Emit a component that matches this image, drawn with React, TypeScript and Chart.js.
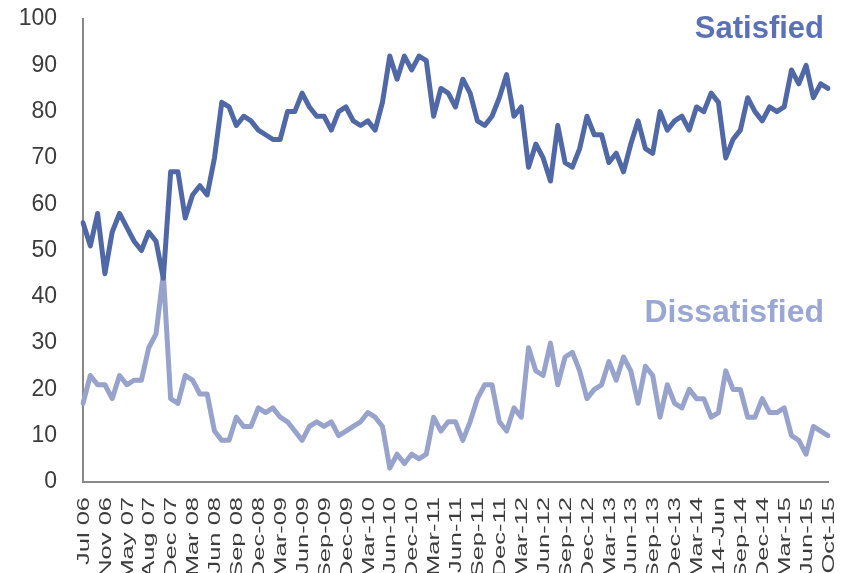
import React, { useEffect, useRef } from "react";
import { Chart, registerables } from "chart.js";

Chart.register(...registerables);

const tickLabels: string[] = [
  "Jul 06", "Nov 06", "May 07", "Aug 07", "Dec 07", "Mar 08", "Jun 08", "Sep 08",
  "Dec-08", "Mar-09", "Jun-09", "Sep-09", "Dec-09", "Mar-10", "Jun-10", "Dec-10",
  "Mar-11", "Jun-11", "Sep-11", "Dec-11", "Mar-12", "Jun-12", "Sep-12", "Dec-12",
  "Mar-13", "Jun-13", "Sep-13", "Dec-13", "Mar-14", "14-Jun", "Sep-14", "Dec-14",
  "Mar-15", "Jun-15", "Oct-15",
];

const satisfied: number[] = [
  56, 51, 58, 45, 54, 58, 55, 52, 50, 54, 52, 44,
  67, 67, 57, 62, 64, 62, 70, 82, 81, 77, 79, 78,
  76, 75, 74, 74, 80, 80, 84, 81, 79, 79, 76, 80,
  81, 78, 77, 78, 76, 82, 92, 87, 92, 89, 92, 91,
  79, 85, 84, 81, 87, 84, 78, 77, 79, 83, 88, 79,
  81, 68, 73, 70, 65, 77, 69, 68, 72, 79, 75, 75,
  69, 71, 67, 73, 78, 72, 71, 80, 76, 78, 79, 76,
  81, 80, 84, 82, 70, 74, 76, 83, 80, 78, 81, 80,
  81, 89, 86, 90, 83, 86, 85,
];

const dissatisfied: number[] = [
  17, 23, 21, 21, 18, 23, 21, 22, 22, 29, 32, 45,
  18, 17, 23, 22, 19, 19, 11, 9, 9, 14, 12, 12,
  16, 15, 16, 14, 13, 11, 9, 12, 13, 12, 13, 10,
  11, 12, 13, 15, 14, 12, 3, 6, 4, 6, 5, 6,
  14, 11, 13, 13, 9, 13, 18, 21, 21, 13, 11, 16,
  14, 29, 24, 23, 30, 21, 27, 28, 24, 18, 20, 21,
  26, 22, 27, 24, 17, 25, 23, 14, 21, 17, 16, 20,
  18, 18, 14, 15, 24, 20, 20, 14, 14, 18, 15, 15,
  16, 10, 9, 6, 12, 11, 10,
];

const LABEL_STEP = 3;
const categories: string[] = satisfied.map((_, i) =>
  i % LABEL_STEP === 0 ? tickLabels[i / LABEL_STEP] ?? "" : ""
);

const FONT = "'Liberation Sans', Arial, sans-serif";
const DARK = "#5068a6";
const LIGHT = "#97a3cb";
const TEXT = "#3c3c3c";

// Draws the category labels of the x scale rotated and elongated, as in the reference.
const stretchedXTicks = {
  id: "stretchedXTicks",
  afterDraw(chart: any) {
    const { ctx } = chart;
    const xs = chart.scales.x;
    ctx.save();
    ctx.font = `17px ${FONT}`;
    ctx.fillStyle = TEXT;
    ctx.textAlign = "right";
    ctx.textBaseline = "middle";
    const labels: string[] = chart.data.labels;
    labels.forEach((lab, i) => {
      if (!lab) return;
      const x = xs.getPixelForTick(i);
      ctx.save();
      ctx.translate(x + 1, xs.top + 15);
      ctx.rotate(-Math.PI / 2);
      ctx.scale(1.5, 1);
      ctx.fillText(lab, 0, 0);
      ctx.restore();
    });
    ctx.restore();
  },
};

const seriesTextPlugin = {
  id: "seriesText",
  afterDatasetsDraw(chart: any) {
    const { ctx } = chart;
    ctx.save();
    ctx.textAlign = "right";
    ctx.textBaseline = "alphabetic";
    ctx.font = `bold 31px ${FONT}`;
    ctx.fillStyle = "#5a71b6";
    ctx.fillText("Satisfied", 824, 38);
    ctx.font = `bold 32px ${FONT}`;
    ctx.fillStyle = "#9aa7d3";
    ctx.fillText("Dissatisfied", 824, 322);
    ctx.restore();
  },
};

export default function App() {
  const ref = useRef<HTMLCanvasElement | null>(null);

  useEffect(() => {
    if (!ref.current) return;
    const chart = new Chart(ref.current, {
      type: "line",
      data: {
        labels: categories,
        datasets: [
          {
            label: "Satisfied",
            data: satisfied,
            borderColor: DARK,
            borderWidth: 5,
            pointRadius: 0,
            tension: 0,
            borderJoinStyle: "round",
            borderCapStyle: "round",
            fill: false,
          },
          {
            label: "Dissatisfied",
            data: dissatisfied,
            borderColor: LIGHT,
            borderWidth: 5,
            pointRadius: 0,
            tension: 0,
            borderJoinStyle: "round",
            borderCapStyle: "round",
            fill: false,
          },
        ],
      },
      options: {
        animation: false,
        responsive: false,
        maintainAspectRatio: false,
        layout: { padding: { left: 0, right: 23, top: 19, bottom: 0 } },
        plugins: {
          legend: { display: false },
          tooltip: { enabled: false },
        },
        scales: {
          x: {
            type: "category",
            offset: false,
            grid: { display: false, drawTicks: false, tickLength: 0 },
            border: { display: true, color: "#888888", width: 2 },
            ticks: { display: false, autoSkip: false },
            afterFit: (scale: any) => {
              scale.height = 91;
              scale.paddingLeft = 0;
              scale.paddingRight = 0;
            },
          },
          y: {
            min: 0,
            max: 100,
            grid: { display: false, drawTicks: false, tickLength: 0 },
            border: { display: true, color: "#888888", width: 2 },
            ticks: {
              stepSize: 10,
              padding: 26,
              color: TEXT,
              font: { family: FONT, size: 23 },
            },
            afterFit: (scale: any) => {
              scale.width = 83;
              scale.paddingTop = 0;
              scale.paddingBottom = 0;
            },
          },
        },
      },
      plugins: [stretchedXTicks, seriesTextPlugin],
    });
    return () => chart.destroy();
  }, []);

  return (
    <div style={{ position: "fixed", left: 0, top: 0, width: 851, height: 573, background: "#fff" }}>
      <canvas ref={ref} width={851} height={573} style={{ display: "block" }} />
    </div>
  );
}
